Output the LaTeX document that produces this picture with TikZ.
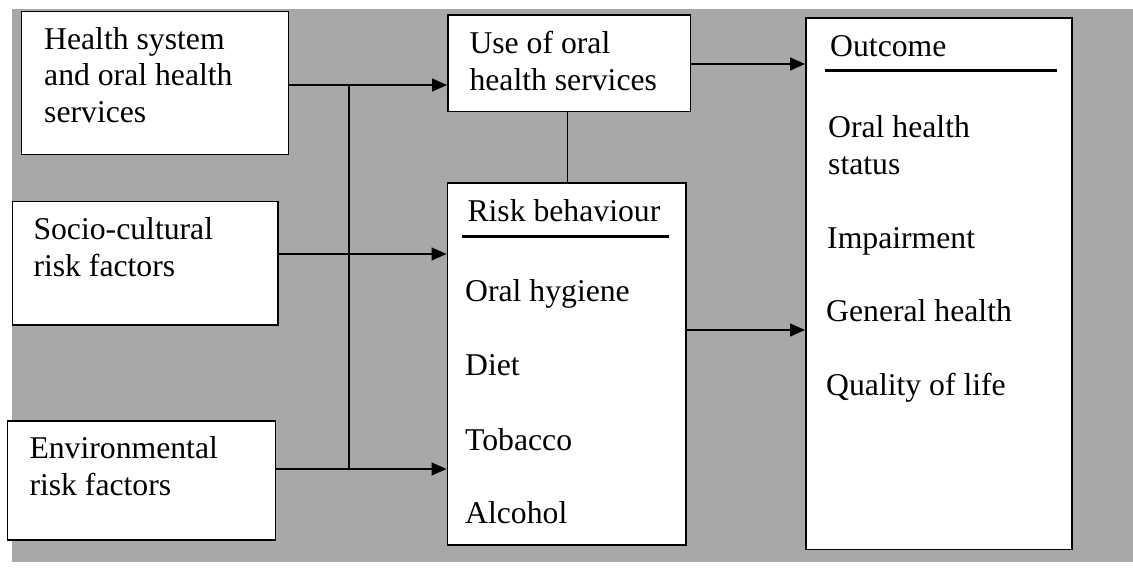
\documentclass[tikz,border=0pt]{standalone}
\usepackage{fontspec}
\setmainfont{Liberation Serif}
\usetikzlibrary{arrows.meta}
\definecolor{scangray}{RGB}{168,168,168}
\begin{document}
\begin{tikzpicture}[x=1pt,y=-1pt,
  box/.style={draw=black, fill=white, line width=1.6pt, inner sep=0pt, anchor=north west},
  txt/.style={anchor=base west, inner sep=0pt, font=\fontsize{31.7}{36.5}\selectfont},
  conn/.style={line width=1.5pt, draw=black},
  arr/.style={conn, -{Triangle[length=15pt,width=13pt]}},
  uline/.style={line width=3.2pt, draw=black}]
\useasboundingbox (0,0) rectangle (1133,571);
\fill[white] (0,0) rectangle (1133,571);
\fill[scangray] (12,9) rectangle (1133,562);

% boxes
\node[box, minimum width=267pt, minimum height=143pt] (b1) at (20.7,10.7) {};
\node[box, minimum width=265.5pt, minimum height=123.5pt] (b2) at (11.7,200.7) {};
\node[box, minimum width=268pt, minimum height=119pt] (b3) at (6.7,420) {};
\node[box, minimum width=242.5pt, minimum height=96.7pt] (b4) at (447,14) {};
\node[box, minimum width=238.5pt, minimum height=362pt] (b5) at (446.5,182) {};
\node[box, minimum width=266pt, minimum height=531.5pt] (b6) at (805,17) {};

% texts
\node[txt] (t1a) at (44,49) {Health system};
\node[txt] (t1b) at (44,85.5) {and oral health};
\node[txt] (t1c) at (44,122) {services};
\node[txt] (t2a) at (33.3,239) {Socio-cultural};
\node[txt] (t2b) at (33.3,276) {risk factors};
\node[txt] (t3a) at (29.3,458.3) {Environmental};
\node[txt] (t3b) at (29.3,495.7) {risk factors};
\node[txt] (t4a) at (469.3,53.3) {Use of oral};
\node[txt] (t4b) at (469.3,90) {health services};
\node[txt] (t5h) at (467.3,221.7) {Risk behaviour};
\node[txt] (t5a) at (465,301.7) {Oral hygiene};
\node[txt] (t5b) at (465,375.7) {Diet};
\node[txt] (t5c) at (465,450) {Tobacco};
\node[txt] (t5d) at (465,523.3) {Alcohol};
\node[txt] (t6h) at (830,56.7) {Outcome};
\node[txt] (t6a) at (828,137.3) {Oral health};
\node[txt] (t6b) at (828,174) {status};
\node[txt] (t6c) at (827,248.3) {Impairment};
\node[txt] (t6d) at (826,321) {General health};
\node[txt] (t6e) at (826,395) {Quality of life};

% underlines
\draw[uline] (462.3,236.7) -- (669.3,236.7);
\draw[uline] (825,70.5) -- (1057,70.5);

% junction coordinates
\coordinate (j1) at (349,85);
\coordinate (j2) at (349,254);
\coordinate (j3) at (349,469);
\coordinate (k1) at (700,64);
\coordinate (k2) at (700,330);
\coordinate (m) at (567.7,150);

% connectors
\draw[arr] (b1.east |- j1) -- (b4.west |- j1);
\draw[conn] (j1) -- (j3);
\draw[arr] (b2.east |- j2) -- (b5.west |- j2);
\draw[arr] (b3.east |- j3) -- (b5.west |- j3);
\draw[arr] (b4.east |- k1) -- (b6.west |- k1);
\draw[conn] (b4.south -| m) -- (b5.north -| m);
\draw[arr] (b5.east |- k2) -- (b6.west |- k2);
\end{tikzpicture}
\end{document}
